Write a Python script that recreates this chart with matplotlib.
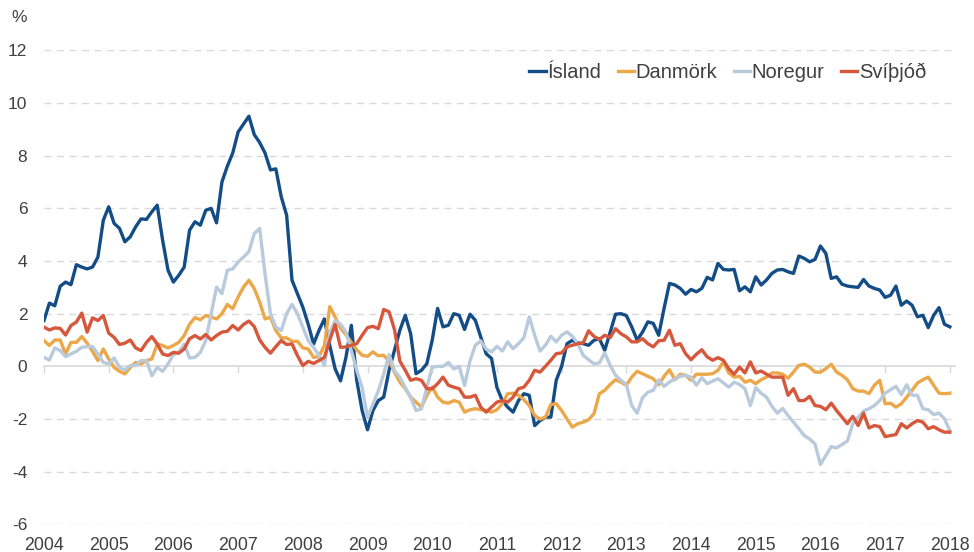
import matplotlib.pyplot as plt
import numpy as np

plt.rcParams['font.family'] = ['Liberation Sans', 'DejaVu Sans']
plt.rcParams['axes.unicode_minus'] = False

# monthly data, jan 2004 - jan 2018
island = [
    1.74, 2.4, 2.3, 3.04, 3.2, 3.1, 3.86, 3.77, 3.7, 3.77, 4.15, 5.55,  # 2004
    6.06, 5.43, 5.24, 4.73, 4.92, 5.3, 5.6, 5.58, 5.87, 6.12, 4.79, 3.65,  # 2005
    3.2, 3.46, 3.77, 5.17, 5.49, 5.36, 5.93, 6.0, 5.45, 7.0, 7.6, 8.1,  # 2006
    8.9, 9.2, 9.5, 8.8, 8.5, 8.1, 7.46, 7.5, 6.44, 5.74, 3.27, 2.76,  # 2007
    2.25, 1.6, 0.85, 1.36, 1.8, 0.79, -0.1, -0.55, 0.34, 1.56, -0.53, -1.68,  # 2008
    -2.41, -1.68, -1.3, -1.17, -0.15, 0.61, 1.37, 1.94, 1.24, -0.28, -0.15, 0.1,  # 2009
    0.99, 2.2, 1.5, 1.56, 2.0, 1.94, 1.4, 1.98, 1.75, 1.12, 0.48, 0.3,  # 2010
    -0.8, -1.3, -1.55, -1.74, -1.3, -1.04, -1.1, -2.25, -2.06, -1.93, -1.93, -0.53,  # 2011
    0.0, 0.86, 0.99, 0.89, 0.86, 0.8, 0.99, 1.05, 0.61, 1.3, 1.98, 2.0,  # 2012
    1.93, 1.5, 1.0, 1.3, 1.69, 1.63, 1.18, 2.2, 3.15, 3.09, 2.96, 2.74,  # 2013
    2.92, 2.83, 2.96, 3.38, 3.28, 3.91, 3.68, 3.66, 3.68, 2.87, 3.02, 2.83,  # 2014
    3.4, 3.09, 3.28, 3.53, 3.66, 3.68, 3.59, 3.53, 4.19, 4.1, 3.97, 4.06,  # 2015
    4.57, 4.29, 3.34, 3.4, 3.12, 3.05, 3.02, 3.0, 3.3, 3.05, 2.96, 2.9,  # 2016
    2.62, 2.7, 3.05, 2.32, 2.48, 2.32, 1.88, 1.94, 1.47, 1.94, 2.23, 1.6,  # 2017
    1.5,  # 2018
]

danmork = [
    0.98, 0.79, 1.0, 1.0, 0.47, 0.91, 0.91, 1.13, 0.88, 0.57, 0.22, 0.66,
    0.28, -0.04, -0.19, -0.29, -0.04, 0.15, 0.09, 0.22, 0.28, 0.85, 0.79, 0.7,
    0.79, 0.91, 1.17, 1.6, 1.85, 1.77, 1.93, 1.87, 1.8, 2.0, 2.35, 2.19,
    2.63, 3.01, 3.27, 2.95, 2.44, 1.8, 1.87, 1.36, 1.08, 1.08, 0.95, 0.95,
    0.7, 0.66, 0.34, 0.37, 0.79, 2.27, 1.87, 1.45, 1.2, 0.9, 0.63, 0.42,
    0.38, 0.55, 0.4, 0.42, 0.2, -0.22, -0.6, -0.85, -1.17, -1.36, -1.55, -1.1,
    -0.79, -1.17, -1.36, -1.4, -1.3, -1.36, -1.74, -1.65, -1.61, -1.65, -1.68, -1.74,
    -1.65, -1.42, -1.04, -1.02, -1.1, -1.27, -1.49, -1.87, -2.0, -1.93, -1.45, -1.42,
    -1.68, -2.0, -2.31, -2.18, -2.12, -2.03, -1.8, -1.04, -0.91, -0.69, -0.51, -0.6,
    -0.72, -0.41, -0.19, -0.28, -0.38, -0.47, -0.7, -0.38, -0.13, -0.51, -0.3, -0.34,
    -0.53, -0.3, -0.3, -0.3, -0.28, -0.15, 0.17, -0.25, -0.41, -0.38, -0.6, -0.53,
    -0.66, -0.51, -0.41, -0.25, -0.25, -0.3, -0.45, -0.22, 0.04, 0.08, -0.03, -0.22,
    -0.22, -0.09, 0.08, -0.22, -0.34, -0.51, -0.85, -0.94, -0.94, -1.04, -0.72, -0.53,
    -1.42, -1.4, -1.55, -1.42, -1.17, -0.91, -0.63, -0.51, -0.41, -0.72, -1.02, -1.04,
    -1.02,
]

noregur = [
    0.34, 0.24, 0.7, 0.6, 0.37, 0.47, 0.57, 0.72, 0.75, 0.75, 0.47, 0.15,
    0.09, 0.32, -0.04, -0.14, 0.03, 0.03, 0.22, 0.22, -0.36, -0.04, -0.19, 0.09,
    0.44, 0.53, 0.85, 0.32, 0.34, 0.53, 0.98, 2.0, 3.01, 2.76, 3.65, 3.7,
    3.96, 4.15, 4.35, 5.04, 5.24, 3.5, 2.0, 1.49, 1.36, 2.0, 2.35, 2.0,
    1.49, 0.98, 0.72, 0.41, 0.03, 1.3, 1.74, 1.6, 1.3, 0.6, -0.16, -0.8,
    -1.94, -1.43, -0.93, -0.29, 0.45, -0.16, -0.42, -0.8, -1.18, -1.68, -1.62, -0.8,
    -0.04, 0.0, 0.0, 0.15, -0.1, 0.0, -0.73, 0.2, 0.8, 0.97, 0.65, 0.55,
    0.76, 0.58, 0.93, 0.67, 0.86, 1.09, 1.88, 1.18, 0.58, 0.8, 1.14, 0.93,
    1.18, 1.31, 1.14, 0.86, 0.42, 0.25, 0.1, 0.13, 0.51, 0.04, -0.34, -0.53,
    -0.69, -1.49, -1.78, -1.2, -0.98, -0.91, -0.51, -0.76, -0.6, -0.47, -0.38, -0.34,
    -0.41, -0.72, -0.43, -0.66, -0.56, -0.47, -0.63, -0.79, -0.6, -0.69, -0.85, -1.49,
    -0.81, -1.02, -1.17, -1.52, -1.78, -1.6, -1.87, -2.12, -2.37, -2.63, -2.76, -2.95,
    -3.73, -3.39, -3.05, -3.1, -2.97, -2.84, -2.18, -1.93, -1.7, -1.61, -1.49, -1.3,
    -1.02, -0.89, -0.76, -1.07, -0.7, -1.1, -1.1, -1.61, -1.65, -1.83, -1.78, -1.99,
    -2.44,
]

svithjod = [
    1.49, 1.38, 1.46, 1.44, 1.19, 1.55, 1.68, 2.02, 1.3, 1.84, 1.74, 1.93,
    1.26, 1.1, 0.83, 0.88, 1.0, 0.7, 0.6, 0.91, 1.13, 0.85, 0.47, 0.41,
    0.53, 0.5, 0.66, 1.05, 1.17, 1.04, 1.21, 1.0, 1.17, 1.3, 1.33, 1.55,
    1.38, 1.59, 1.72, 1.51, 1.0, 0.72, 0.5, 0.75, 0.98, 0.83, 0.85, 0.41,
    0.03, 0.19, 0.11, 0.22, 0.34, 1.0, 1.59, 0.72, 0.74, 0.8, 0.86, 1.18,
    1.47, 1.52, 1.43, 2.16, 2.07, 1.4, 0.2, -0.15, -0.53, -0.47, -0.53, -0.85,
    -0.85, -0.66, -0.41, -0.72, -0.79, -0.85, -1.17, -1.17, -1.1, -1.55, -1.74, -1.55,
    -1.36, -1.3, -1.36, -1.17, -0.85, -0.79, -0.53, -0.15, -0.22, 0.0, 0.23, 0.48,
    0.51, 0.74, 0.8, 0.86, 0.89, 1.35, 1.14, 1.02, 1.18, 1.09, 1.43, 1.24,
    1.12, 0.93, 0.93, 1.05, 0.86, 0.74, 0.97, 0.99, 1.37, 0.8, 0.86, 0.48,
    0.25, 0.46, 0.63, 0.36, 0.23, 0.33, 0.23, -0.09, -0.3, -0.03, -0.25, 0.17,
    -0.25, -0.18, -0.3, -0.41, -0.41, -0.41, -1.1, -0.85, -1.3, -1.3, -1.14, -1.49,
    -1.52, -1.65, -1.4, -1.68, -1.93, -2.18, -1.9, -2.25, -1.78, -2.34, -2.25, -2.29,
    -2.67, -2.63, -2.59, -2.18, -2.34, -2.18, -2.06, -2.12, -2.37, -2.29, -2.41, -2.5,
    -2.5,
]

labels = ["Ísland", "Danmörk", "Noregur", "Svíþjóð"]
colors = ["#144c86", "#eba748", "#b9cadd", "#d6573b"]
years = list(range(2004, 2019))
yticks = list(range(-6, 13, 2))

x = 2004 + np.arange(len(island)) / 12
txt = "#404040"
grid = "#d9d9d9"

fig = plt.figure(figsize=(9.74, 5.52), dpi=100)
ax = fig.add_axes([44 / 974, 1 - 524.3 / 552, (955 - 44) / 974, (524.3 - 50.4) / 552])

for y in yticks:
    if y != 0:
        ax.axhline(y, color=grid, lw=1, ls=(0, (5, 4)), zorder=0)

for vals, lab, c in zip([island, danmork, noregur, svithjod], labels, colors):
    ax.plot(x, vals, color=c, lw=2.4, label=lab)

ax.set_xlim(2004, 2018.08)
ax.set_ylim(-6, 12)
ax.set_yticks(yticks)
ax.set_xticks(years)

for s in ["top", "right", "left"]:
    ax.spines[s].set_visible(False)
ax.spines["bottom"].set_position(("data", 0))
ax.spines["bottom"].set_color(grid)
ax.spines["bottom"].set_linewidth(1.2)
ax.spines["bottom"].set_zorder(0)

ax.tick_params(axis="y", length=0, pad=12, labelsize=12.5, labelcolor=txt)
ax.tick_params(axis="x", length=5, color=grid, width=1, labelbottom=False)

sec = ax.secondary_xaxis(0)
sec.set_xticks(years)
sec.set_xticklabels([str(y) for y in years])
sec.tick_params(length=0, pad=9, labelsize=12.8, labelcolor=txt)
sec.spines["bottom"].set_visible(False)

fig.text(19 / 974, 1 - 18 / 552, "%", ha="center", va="center", fontsize=12.5, color=txt)

ax.legend(loc="center right", bbox_to_anchor=(926 / 974, 1 - 72 / 552),
          bbox_transform=fig.transFigure, ncol=4, frameon=False,
          handlelength=0.8, handletextpad=0.1, columnspacing=0.8,
          fontsize=14.5, labelcolor=txt, borderaxespad=0, borderpad=0)

fig.savefig("out.png", dpi=100)
